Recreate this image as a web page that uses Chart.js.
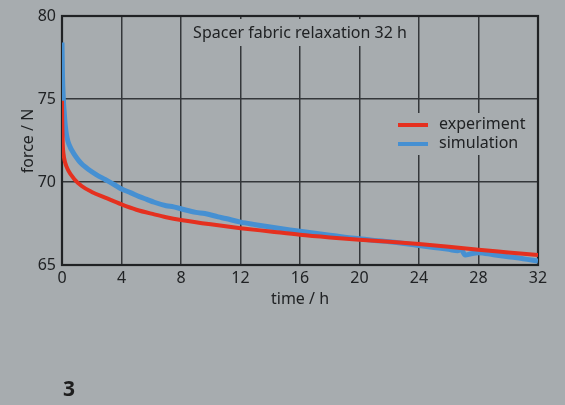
<!DOCTYPE html>
<html>
<head>
<meta charset="utf-8">
<script src="https://cdn.jsdelivr.net/npm/chart.js@4.4.0/dist/chart.umd.min.js"></script>
<style>
  html, body { margin: 0; padding: 0; background: #a7acaf; }
  #wrap { position: relative; width: 565px; height: 405px; }
  #fig { position: absolute; left: 63px; top: 374px; font: bold 21px "Noto Sans", sans-serif; color: #1e1e1e; }
</style>
</head>
<body>
<div id="wrap">
  <canvas id="myChart" width="565" height="405"></canvas>
  <div id="fig">3</div>
</div>
<script>
// values
const xTicks = [0, 4, 8, 12, 16, 20, 24, 28, 32];
const yTicks = [65, 70, 75, 80];

const expTime  = [0, 0.02, 0.05, 0.1, 0.2, 0.42, 0.8, 1.32, 2, 2.9, 4, 5, 6.2, 7, 8.1, 10, 12, 14, 16, 18, 20, 22, 24, 26, 28, 30, 32];
const expForce = [74.9, 73.5, 72.3, 71.7, 71.2, 70.7, 70.2, 69.76, 69.4, 69.06, 68.65, 68.33, 68.05, 67.88, 67.7, 67.45, 67.22, 67.02, 66.82, 66.66, 66.52, 66.4, 66.26, 66.1, 65.92, 65.76, 65.6];

const simTime  = [0, 0.03, 0.09, 0.15, 0.22, 0.3, 0.4, 0.55, 0.7, 0.87, 1.1, 1.3, 1.5, 1.76, 2.3, 2.9, 3.5, 4, 4.6, 5.2, 5.7, 6.2, 7, 7.5, 8.1, 9, 9.6, 10.5, 11, 12, 13, 14, 15, 16, 17, 18, 19, 20, 21, 22, 23, 24, 25, 26, 26.6, 26.85, 27.1, 27.5, 28, 29, 30, 31, 32];
const simForce = [78.4, 76.5, 75.0, 74.2, 73.4, 72.85, 72.45, 72.1, 71.85, 71.6, 71.32, 71.12, 70.95, 70.77, 70.45, 70.15, 69.85, 69.58, 69.36, 69.12, 68.95, 68.78, 68.57, 68.5, 68.36, 68.17, 68.1, 67.9, 67.8, 67.58, 67.43, 67.29, 67.16, 67.03, 66.91, 66.8, 66.68, 66.58, 66.48, 66.4, 66.3, 66.18, 66.06, 65.94, 65.86, 65.92, 65.6, 65.68, 65.74, 65.62, 65.5, 65.38, 65.24];

const RED = '#e5301f';
const BLUE = '#4690d2';
const INK = '#202224';
const BG = '#a7acaf';
const FONT = '"Noto Sans", sans-serif';

const toPoints = (xs, ys) => xs.map((x, i) => ({ x: x, y: ys[i] }));

// frame, title box, legend box and axis titles
const decorations = {
    id: 'decorations',
    beforeDatasetsDraw(chart) {
        const { ctx, chartArea: a } = chart;
        ctx.save();
        // boxes that cover the grid
        ctx.fillStyle = BG;
        ctx.fillRect(184, 19, 232, 27);
        ctx.fillRect(394, 113, 140, 42);

        ctx.fillStyle = INK;
        ctx.font = '16px ' + FONT;
        ctx.textBaseline = 'middle';
        ctx.textAlign = 'center';
        ctx.fillText('Spacer fabric relaxation 32 h', 300, 33);

        // legend
        ctx.textAlign = 'left';
        ctx.lineWidth = 4;
        ctx.strokeStyle = RED;
        ctx.beginPath(); ctx.moveTo(398, 125); ctx.lineTo(428, 125); ctx.stroke();
        ctx.strokeStyle = BLUE;
        ctx.beginPath(); ctx.moveTo(398, 144); ctx.lineTo(428, 144); ctx.stroke();
        ctx.fillText('experiment', 439, 124);
        ctx.fillText('simulation', 439, 143);

        // axis titles
        ctx.textAlign = 'center';
        ctx.fillText('time / h', (a.left + a.right) / 2, 299);
        ctx.translate(28, 141);
        ctx.rotate(-Math.PI / 2);
        ctx.fillText('force / N', 0, 0);
        ctx.restore();

        // plot frame
        ctx.save();
        ctx.strokeStyle = INK;
        ctx.lineWidth = 2.2;
        ctx.strokeRect(a.left, a.top, a.right - a.left, a.bottom - a.top);
        ctx.restore();
    }
};

const ctx = document.getElementById('myChart').getContext('2d');
const myChart = new Chart(ctx, {
    type: 'line',
    data: {
        datasets: [{
            label: 'experiment',
            data: toPoints(expTime, expForce),
            borderColor: RED,
            borderWidth: 4,
            pointRadius: 0,
            cubicInterpolationMode: 'monotone'
        }, {
            label: 'simulation',
            data: toPoints(simTime, simForce),
            borderColor: BLUE,
            borderWidth: 5,
            pointRadius: 0,
            cubicInterpolationMode: 'monotone'
        }]
    },
    options: {
        responsive: false,
        animation: false,
        layout: { padding: { left: 0, right: 27, top: 16, bottom: 0 } },
        plugins: {
            legend: { display: false },
            title: { display: false },
            tooltip: { enabled: false }
        },
        scales: {
            x: {
                type: 'linear',
                min: 0,
                max: 32,
                afterBuildTicks: scale => { scale.ticks = xTicks.map(v => ({ value: v })); },
                afterFit: scale => { scale.height = 140; },
                grid: { color: '#34373a', lineWidth: 1.5, drawTicks: false },
                border: { display: false },
                ticks: {
                    color: INK,
                    padding: 4,
                    maxRotation: 0,
                    autoSkip: false,
                    font: { family: FONT, size: 16 }
                }
            },
            y: {
                min: 65,
                max: 80,
                afterBuildTicks: scale => { scale.ticks = yTicks.map(v => ({ value: v })); },
                afterFit: scale => { scale.width = 62; },
                grid: { color: '#34373a', lineWidth: 1.5, drawTicks: false },
                border: { display: false },
                ticks: {
                    color: INK,
                    padding: 6,
                    font: { family: FONT, size: 16 }
                }
            }
        }
    },
    plugins: [decorations]
});
</script>
</body>
</html>
